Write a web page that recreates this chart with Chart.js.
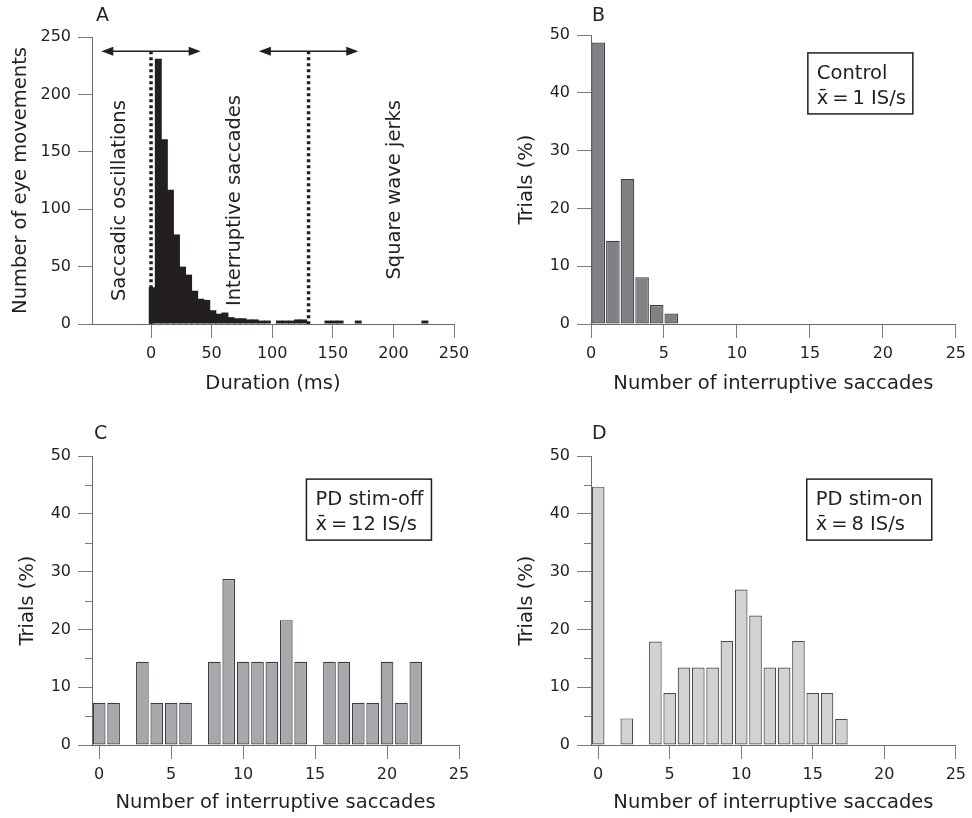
<!DOCTYPE html>
<html>
<head>
<meta charset="utf-8">
<script src="https://cdn.jsdelivr.net/npm/chart.js@4.4.0/dist/chart.umd.min.js"></script>
<style>
  body { margin: 0; background: #fff; }
  #wrap { position: relative; width: 972px; height: 818px; }
  .panel { position: absolute; width: 486px; height: 409px; }
</style>
</head>
<body>
<div id="wrap">
  <div class="panel" style="left:0;top:0"><canvas id="chartA" width="486" height="409"></canvas></div>
  <div class="panel" style="left:486px;top:0"><canvas id="chartB" width="486" height="409"></canvas></div>
  <div class="panel" style="left:0;top:409px"><canvas id="chartC" width="486" height="409"></canvas></div>
  <div class="panel" style="left:486px;top:409px"><canvas id="chartD" width="486" height="409"></canvas></div>
</div>
<script>
// A: histogram of durations (bin centres, ms) and number of eye movements
const durationMs = [1, 6, 11, 16, 21, 26, 31, 36, 41, 46, 51, 56, 61, 66, 71, 76, 81, 86, 91, 96,
                    106, 111, 116, 121, 126, 146, 151, 156, 171, 226];
const eyeMovements = [32, 231, 161, 117, 78, 50, 43, 29, 22, 21, 12, 9, 10, 6, 5, 5, 4, 4, 3, 3,
                      3, 3, 3, 4, 4, 3, 3, 3, 3, 3];
const durationTicks = [0, 50, 100, 150, 200, 250];
const movementTicks = [0, 50, 100, 150, 200, 250];
const regionLimits = [0, 130];
const regionNames = ['Saccadic oscillations', 'Interruptive saccades', 'Square wave jerks'];

// B-D: number of interruptive saccades per trial vs % of trials
const saccadesControl = [0, 1, 2, 3, 4, 5];
const trialsControl = [48.7, 14.4, 25.1, 8.1, 3.3, 1.8];

const saccadesStimOff = [0, 1, 3, 4, 5, 6, 8, 9, 10, 11, 12, 13, 14, 16, 17, 18, 19, 20, 21, 22];
const trialsStimOff = [7.3, 7.3, 14.4, 7.3, 7.3, 7.3, 14.4, 28.7, 14.4, 14.4, 14.4, 21.6, 14.4,
                       14.4, 14.4, 7.3, 7.3, 14.4, 7.3, 14.4];

const saccadesStimOn = [0, 2, 4, 5, 6, 7, 8, 9, 10, 11, 12, 13, 14, 15, 16, 17];
const trialsStimOn = [44.7, 4.6, 17.9, 9.0, 13.4, 13.4, 13.4, 18.0, 26.9, 22.4, 13.4, 13.4, 18.0,
                      9.0, 9.0, 4.5];

const saccadeTicks = [0, 5, 10, 15, 20, 25];
const trialTicks = [0, 10, 20, 30, 40, 50];
const trialMinorTicks = [5, 15, 25, 35, 45];

const ink = '#231f20';
const tickGrey = '#7c7c7c';
const FONT = '"DejaVu Sans", sans-serif';
Chart.defaults.font.family = FONT;
Chart.defaults.color = ink;

// annotations drawn on top of the bars: panel letter, minor ticks, boxes, panel A markers
const panelExtras = {
  id: 'panelExtras',
  afterDatasetsDraw(chart, args, o) {
    const c = chart.ctx;
    const xs = chart.scales.x, ys = chart.scales.y, area = chart.chartArea;
    c.save();
    c.fillStyle = ink;
    c.font = '19px ' + FONT;
    c.textAlign = 'left';
    c.textBaseline = 'middle';
    c.fillText(o.letter, o.letterAt[0], o.letterAt[1]);

    if (o.minorTicks) {
      c.strokeStyle = tickGrey;
      c.lineWidth = 1;
      o.minorTicks.forEach(v => {
        const y = Math.round(ys.getPixelForValue(v)) + 0.5;
        c.beginPath();
        c.moveTo(area.left - 7, y);
        c.lineTo(area.left, y);
        c.stroke();
      });
    }

    if (o.box) {
      const bx = xs.getPixelForValue(o.box.at[0]);
      const by = ys.getPixelForValue(o.box.at[1]);
      c.strokeStyle = ink;
      c.lineWidth = 1.5;
      c.strokeRect(bx, by, o.box.w, 61);
      c.font = '19.5px ' + FONT;
      c.textBaseline = 'alphabetic';
      c.fillText(o.box.lines[0], bx + 9, by + 26);
      c.fillText(o.box.lines[1], bx + 9, by + 51);
    }

    if (o.limits) {
      const yTop = ys.getPixelForValue(o.arrowLevel);
      const y0 = ys.getPixelForValue(0);
      c.strokeStyle = ink;
      // dotted limits
      c.lineWidth = 3.5;
      c.setLineDash([3, 3]);
      o.limits.forEach(v => {
        const x = xs.getPixelForValue(v);
        c.beginPath();
        c.moveTo(x, yTop);
        c.lineTo(x, y0);
        c.stroke();
      });
      // double arrows
      c.setLineDash([]);
      c.lineWidth = 1.5;
      o.limits.forEach(v => {
        const x1 = xs.getPixelForValue(v - o.arrowSpan);
        const x2 = xs.getPixelForValue(v + o.arrowSpan);
        c.beginPath();
        c.moveTo(x1 + 6, yTop);
        c.lineTo(x2 - 6, yTop);
        c.stroke();
        c.beginPath();
        c.moveTo(x1, yTop); c.lineTo(x1 + 12, yTop - 4.5); c.lineTo(x1 + 12, yTop + 4.5);
        c.closePath(); c.fill();
        c.beginPath();
        c.moveTo(x2, yTop); c.lineTo(x2 - 12, yTop - 4.5); c.lineTo(x2 - 12, yTop + 4.5);
        c.closePath(); c.fill();
      });
      // rotated region names
      c.font = '19.5px ' + FONT;
      c.textAlign = 'right';
      c.textBaseline = 'middle';
      o.names.forEach((name, i) => {
        c.save();
        c.translate(xs.getPixelForValue(o.nameAt[i][0]), ys.getPixelForValue(o.nameAt[i][1]));
        c.rotate(-Math.PI / 2);
        c.fillText(name, 0, 0);
        c.restore();
      });
    }
    c.restore();
  }
};

function makePanel(id, p) {
  const ctx = document.getElementById(id).getContext('2d');
  return new Chart(ctx, {
    type: 'bar',
    data: {
      datasets: [{
        data: p.points,
        backgroundColor: p.fill,
        borderColor: p.edge,
        borderWidth: p.edgeWidth,
        borderSkipped: false,
        barPercentage: p.barPct,
        categoryPercentage: 1
      }]
    },
    options: {
      responsive: false,
      animation: false,
      layout: { padding: p.pad },
      plugins: {
        legend: { display: false },
        tooltip: { enabled: false },
        panelExtras: p.extras
      },
      scales: {
        x: {
          type: 'linear',
          offset: false,
          min: p.xMin,
          max: p.xMax,
          afterBuildTicks: s => { s.ticks = p.xTicks.map(v => ({ value: v })); },
          afterFit: s => { s.height = p.xHeight; },
          grid: { offset: false, drawOnChartArea: false, tickLength: 14, tickColor: tickGrey, tickWidth: 1 },
          border: { color: '#6a6a6a', width: 1 },
          ticks: { font: { size: 16 }, padding: 6, maxRotation: 0, autoSkip: false, color: ink },
          title: { display: true, text: p.xTitle, color: ink, font: { size: 19.5 },
                   padding: { top: 0, bottom: p.xTitlePad } }
        },
        y: {
          min: 0,
          max: p.yMax,
          afterBuildTicks: s => { s.ticks = p.yTicks.map(v => ({ value: v })); },
          afterFit: s => { s.width = p.yWidth; },
          grid: { drawOnChartArea: false, tickLength: 14, tickColor: tickGrey, tickWidth: 1 },
          border: { color: '#6a6a6a', width: 1 },
          ticks: { font: { size: 16 }, padding: 7, color: ink },
          title: { display: true, text: p.yTitle, color: ink, font: { size: 19.5 },
                   padding: { top: p.yTitlePad, bottom: 0 } }
        }
      }
    },
    plugins: [panelExtras]
  });
}

const xbar = '\u0078\u0304\u2009=\u2009';

makePanel('chartA', {
  points: durationMs.map((d, i) => ({ x: d, y: eyeMovements[i] })),
  fill: ink, edge: ink, edgeWidth: 0, barPct: 1.15,
  pad: { left: 0, top: 37, right: 32, bottom: 5 },
  xMin: -48.7, xMax: 250, xTicks: durationTicks, xHeight: 80, xTitle: 'Duration (ms)', xTitlePad: 8.3,
  yMax: 250, yTicks: movementTicks, yWidth: 92, yTitle: 'Number of eye movements', yTitlePad: 9.5,
  extras: {
    letter: 'A', letterAt: [96, 16],
    limits: regionLimits, arrowLevel: 237.5, arrowSpan: 41,
    names: regionNames, nameAt: [[-25.5, 195], [69.3, 199.5], [201.3, 195]]
  }
});

makePanel('chartB', {
  points: saccadesControl.map((n, i) => ({ x: n + 0.5, y: trialsControl[i] })),
  fill: '#808185', edge: '#3d3d3f', edgeWidth: 1.2, barPct: 0.93,
  pad: { left: 0, top: 35, right: 14.3, bottom: 5 },
  xMin: 0, xMax: 25, xTicks: saccadeTicks, xHeight: 80, xTitle: 'Number of interruptive saccades', xTitlePad: 8.8,
  yMax: 50, yTicks: trialTicks, yWidth: 105, yTitle: 'Trials (%)', yTitlePad: 29.3,
  extras: {
    letter: 'B', letterAt: [106, 16],
    box: { at: [14.86, 46.9], w: 105, lines: ['Control', xbar + '1 IS/s'] }
  }
});

makePanel('chartC', {
  points: saccadesStimOff.map((n, i) => ({ x: n, y: trialsStimOff[i] })),
  fill: '#a7a8ab', edge: '#3d3d3f', edgeWidth: 1.2, barPct: 0.88,
  pad: { left: 0, top: 47, right: 27, bottom: 3 },
  xMin: -0.5, xMax: 25, xTicks: saccadeTicks, xHeight: 70, xTitle: 'Number of interruptive saccades', xTitlePad: 0.6,
  yMax: 50, yTicks: trialTicks, yWidth: 92, yTitle: 'Trials (%)', yTitlePad: 16.6,
  extras: {
    letter: 'C', letterAt: [94, 25], minorTicks: trialMinorTicks,
    box: { at: [14.4, 46.0], w: 125, lines: ['PD stim-off', xbar + '12 IS/s'] }
  }
});

makePanel('chartD', {
  points: saccadesStimOn.map((n, i) => ({ x: n, y: trialsStimOn[i] })),
  fill: '#d1d2d4', edge: '#4a4a4c', edgeWidth: 1.2, barPct: 0.88,
  pad: { left: 0, top: 47, right: 14.7, bottom: 3 },
  xMin: -0.5, xMax: 25, xTicks: saccadeTicks, xHeight: 70, xTitle: 'Number of interruptive saccades', xTitlePad: 0.6,
  yMax: 50, yTicks: trialTicks, yWidth: 105, yTitle: 'Trials (%)', yTitlePad: 29,
  extras: {
    letter: 'D', letterAt: [106, 25], minorTicks: trialMinorTicks,
    box: { at: [14.58, 46.0], w: 125, lines: ['PD stim-on', xbar + '8 IS/s'] }
  }
});
</script>
</body>
</html>
